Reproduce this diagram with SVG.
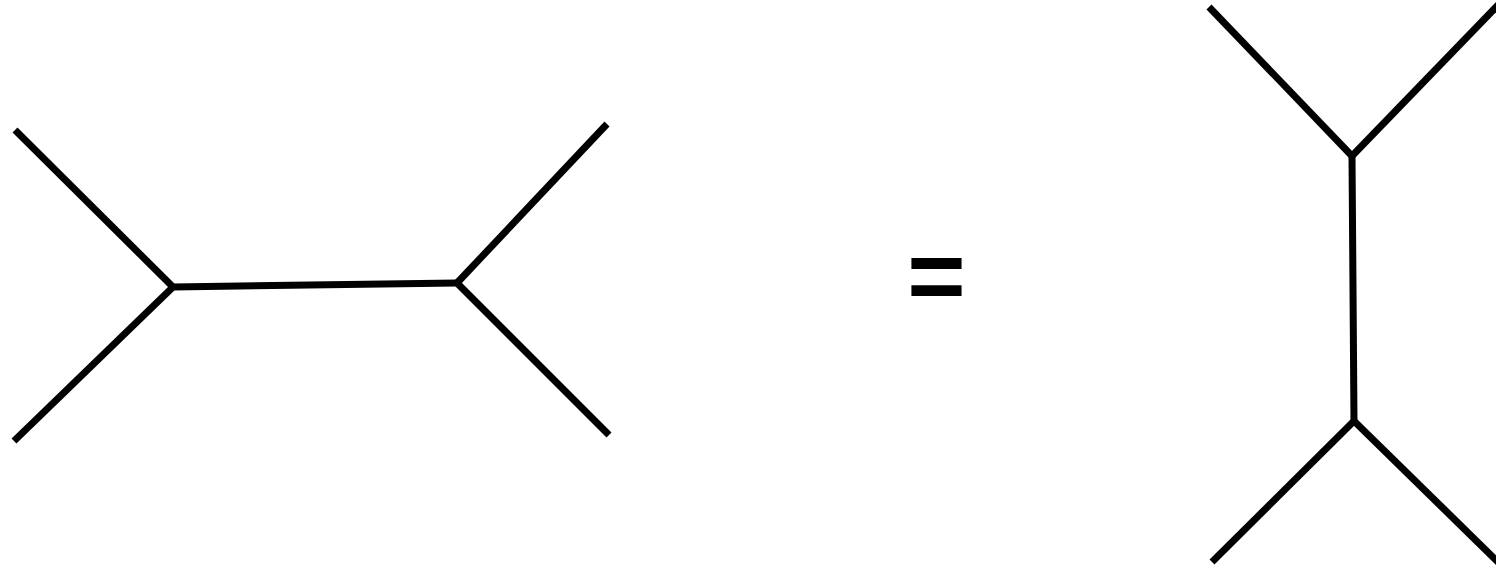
<svg xmlns="http://www.w3.org/2000/svg" width="1496" height="568" viewBox="0 0 1496 568">
<style>
.e{stroke:#000;stroke-width:7;fill:none;stroke-linecap:butt}
.t{font-family:"Liberation Sans",Arial,sans-serif;font-size:100px;font-weight:bold;fill:#000}
</style>
<rect width="1496" height="568" fill="#fff"/>
<g id="connectors">
<line class="e" x1="15" y1="130" x2="173" y2="287"/>
<line class="e" x1="14" y1="441" x2="173" y2="287"/>
<line class="e" x1="173" y1="287" x2="457" y2="283"/>
<line class="e" x1="457" y1="283" x2="607" y2="124"/>
<line class="e" x1="457" y1="283" x2="609" y2="435"/>
<line class="e" x1="1209" y1="7" x2="1352" y2="156"/>
<line class="e" x1="1352" y1="156" x2="1500" y2="3"/>
<line class="e" x1="1352" y1="156" x2="1354" y2="421"/>
<line class="e" x1="1354" y1="421" x2="1212" y2="562"/>
<line class="e" x1="1354" y1="421" x2="1500" y2="564"/>
</g>
<g id="equals">
<text class="t" x="936.5" y="310" text-anchor="middle">=</text>
</g>
</svg>
